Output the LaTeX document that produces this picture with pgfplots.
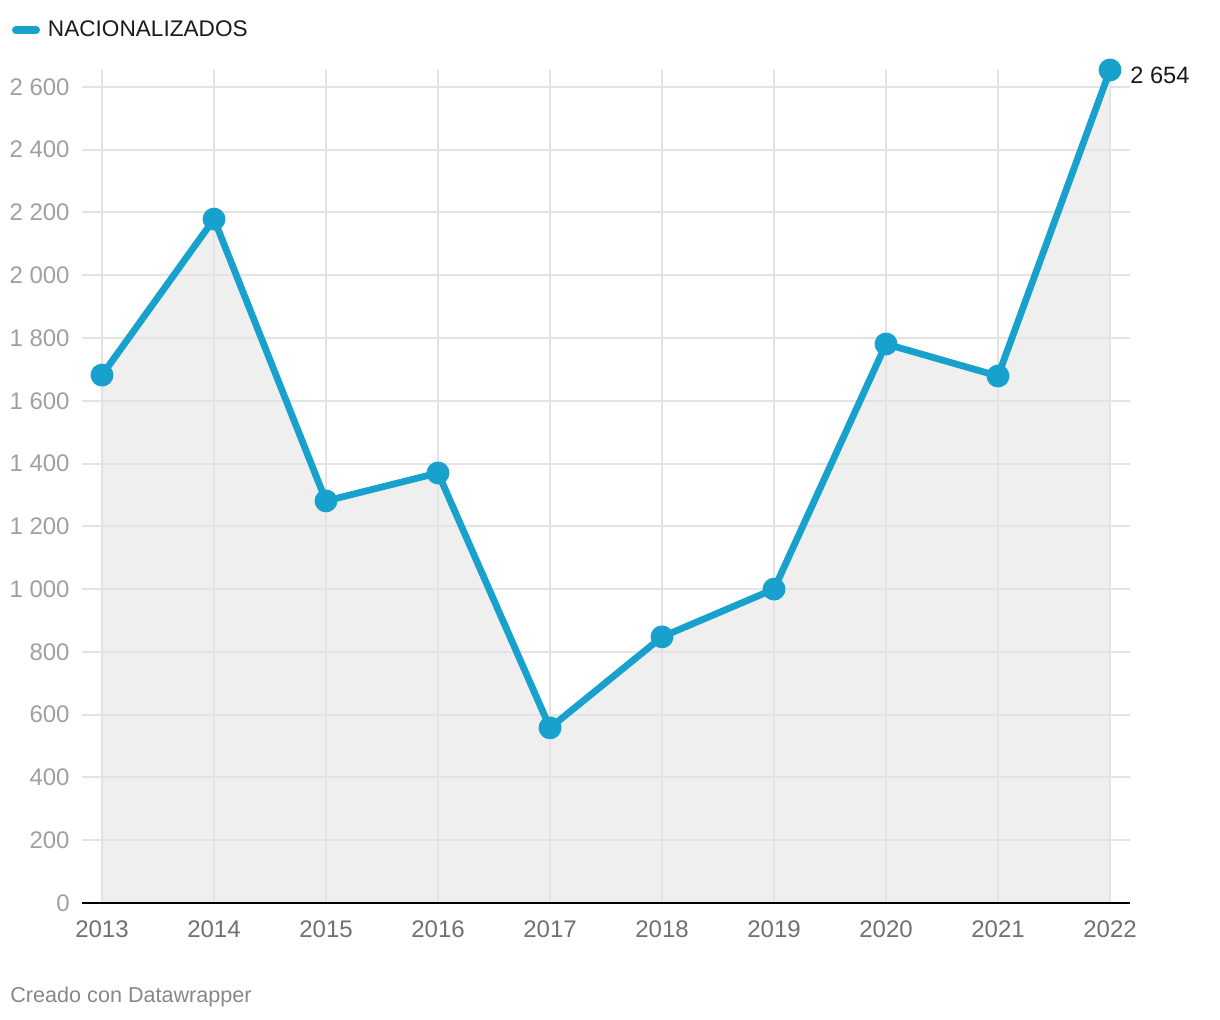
\documentclass[border=0pt]{standalone}
\usepackage{pgfplots}
\pgfplotsset{compat=1.18}
\usepackage{fontspec}
\setmainfont{Liberation Sans}
\definecolor{dwblue}{HTML}{18A1CD}
\definecolor{fillgray}{HTML}{EFEFEF}
\definecolor{gridgray}{HTML}{E3E3E3}
\definecolor{ylab}{HTML}{A0A0A0}
\definecolor{xlab}{HTML}{707070}
\definecolor{foot}{HTML}{888888}
\definecolor{textdark}{HTML}{1A1A1A}
\pgfplotsset{
  layers/mylayers/.define layer set={axis background,pre main,axis grid,axis ticks,axis lines,axis tick labels,main,axis descriptions,axis foreground}{},
}
\begin{document}
\begin{tikzpicture}
\begin{axis}[
  set layers=mylayers,
  at={(41pt,-451.5pt)}, anchor=south west,
  scale only axis, width=524pt, height=416.5pt,
  xmin=2012.8214, xmax=2022.1786, ymin=0, ymax=2654,
  clip=false,
  axis lines*=left,
  y axis line style={draw=none},
  x axis line style={black, line width=1.4pt},
  xtick={2013,2014,2015,2016,2017,2018,2019,2020,2021,2022},
  xticklabels={2013,2014,2015,2016,2017,2018,2019,2020,2021,2022},
  ytick={0,200,...,2600},
  major tick length=0pt,
  grid=major,
  grid style={draw=gridgray, line width=1pt},
  /pgf/number format/1000 sep={\ },
  /pgf/number format/assume math mode=true,
  yticklabel style={font=\fontsize{12}{14}\selectfont, text=ylab, anchor=east, inner sep=0pt, xshift=-6pt},
  xticklabel style={font=\fontsize{12}{14}\selectfont, text=xlab, anchor=north, inner sep=0pt, yshift=-8.5pt},
  legend style={at={(-0.0668,1.048)}, anchor=west, draw=none, fill=none, inner sep=0pt, outer sep=0pt,
    font=\fontsize{11.3}{13}\selectfont, text=textdark},
  legend cell align=left,
  legend image code/.code={\draw[dwblue, line width=4pt, line cap=round] (0pt,0pt) -- (10pt,0pt);\path[draw=none,fill=none] (0pt,0pt) -- (14pt,0pt);},
]
\addplot[on layer=pre main, fill=fillgray, draw=none, forget plot] coordinates {
(2013,1682) (2014,2179) (2015,1281) (2016,1370) (2017,558) (2018,848) (2019,1000) (2020,1781) (2021,1679) (2022,2654)
} \closedcycle;
\addplot[color=dwblue, line width=3.4pt, line join=round, mark=*, mark size=4pt,
  mark options={fill=dwblue, draw=none}] coordinates {
(2013,1682) (2014,2179) (2015,1281) (2016,1370) (2017,558) (2018,848) (2019,1000) (2020,1781) (2021,1679) (2022,2654)
};
\addlegendentry{NACIONALIZADOS}
\node[anchor=west, inner sep=0pt, font=\fontsize{11.8}{13}\selectfont, text=textdark, xshift=10pt, yshift=-2.5pt] at (axis cs:2022,2654) {2 654};
\end{axis}
\node[anchor=west, inner sep=0pt, font=\fontsize{10.8}{13}\selectfont, text=foot] at (5pt,-498.5pt) {Creado con Datawrapper};
\pgfresetboundingbox
\path[use as bounding box] (0,0) rectangle (610pt,-510pt);
\end{tikzpicture}
\end{document}
